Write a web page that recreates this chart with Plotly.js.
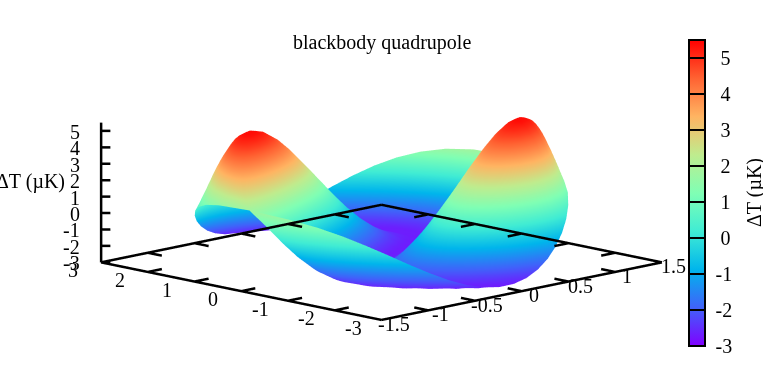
<!DOCTYPE html>
<html><head><meta charset="utf-8">
<script src="https://cdn.plot.ly/plotly-3.0.1.min.js"></script>
<style>html,body{margin:0;padding:0;background:#fff}#plot{width:763px;height:385px}</style>
</head><body><div id="plot"></div>
<script>
const lonDeg = [-180,-172.5,-165,-157.5,-150,-142.5,-135,-127.5,-120,-112.5,-105,-97.5,-90,-82.5,-75,-67.5,-60,-52.5,-45,-37.5,-30,-22.5,-15,-7.5,0,7.5,15,22.5,30,37.5,45,52.5,60,67.5,75,82.5,90,97.5,105,112.5,120,127.5,135,142.5,150,157.5,165,172.5,180];
const northY = [0,0.145,0.29,0.432,0.571,0.707,0.837,0.961,1.079,1.186,1.282,1.362,1.414];
const northHalfWidth = [2.828,2.813,2.768,2.693,2.587,2.449,2.279,2.074,1.829,1.54,1.193,0.76,0];
const row00 = [-2.66,-2.50,-2.24,-1.88,-1.46,-1.00,-.53,-.09,.30,.60,.81,.89,.85,.70,.43,.07,-.35,-.81,-1.28,-1.72,-2.11,-2.41,-2.61,-2.70,-2.66,-2.50,-2.24,-1.88,-1.46,-1.00,-.53,-.09,.30,.60,.81,.89,.85,.70,.43,.07,-.35,-.81,-1.28,-1.72,-2.11,-2.41,-2.61,-2.70,-2.66];
const row08 = [-2.48,-2.19,-1.80,-1.32,-.79,-.23,.32,.83,1.28,1.62,1.85,1.95,1.91,1.73,1.43,1.02,.53,-.01,-.57,-1.11,-1.62,-2.04,-2.37,-2.59,-2.69,-2.67,-2.54,-2.32,-2.02,-1.67,-1.30,-.94,-.63,-.38,-.21,-.14,-.17,-.30,-.52,-.81,-1.15,-1.52,-1.88,-2.20,-2.46,-2.63,-2.70,-2.65,-2.48];
const row15 = [-2.15,-1.75,-1.25,-.68,-.06,.58,1.19,1.75,2.24,2.61,2.86,2.96,2.92,2.73,2.40,1.96,1.42,.83,.20,-.43,-1.03,-1.56,-2.00,-2.34,-2.57,-2.69,-2.69,-2.60,-2.42,-2.19,-1.94,-1.68,-1.44,-1.25,-1.12,-1.06,-1.08,-1.18,-1.35,-1.58,-1.83,-2.09,-2.34,-2.53,-2.66,-2.70,-2.63,-2.45,-2.15];
const row23 = [-1.71,-1.21,-.63,.02,.69,1.37,2.02,2.62,3.12,3.51,3.76,3.87,3.82,3.63,3.29,2.83,2.27,1.64,.97,.28,-.38,-.98,-1.52,-1.96,-2.30,-2.54,-2.67,-2.70,-2.65,-2.55,-2.40,-2.24,-2.08,-1.95,-1.86,-1.82,-1.84,-1.91,-2.02,-2.17,-2.34,-2.49,-2.62,-2.69,-2.69,-2.60,-2.41,-2.11,-1.71];
const row30 = [-1.18,-.61,.02,.70,1.41,2.10,2.76,3.36,3.86,4.25,4.50,4.60,4.56,4.36,4.03,3.57,3.01,2.37,1.69,.98,.29,-.37,-.96,-1.48,-1.91,-2.24,-2.48,-2.62,-2.69,-2.70,-2.65,-2.59,-2.51,-2.44,-2.39,-2.36,-2.37,-2.41,-2.48,-2.56,-2.63,-2.68,-2.70,-2.66,-2.54,-2.35,-2.05,-1.66,-1.18];
const row38 = [-.60,0,.66,1.34,2.04,2.72,3.36,3.93,4.41,4.78,5.02,5.12,5.07,4.89,4.57,4.14,3.60,2.98,2.31,1.62,.93,.26,-.37,-.93,-1.41,-1.81,-2.13,-2.37,-2.53,-2.63,-2.68,-2.70,-2.69,-2.68,-2.66,-2.66,-2.66,-2.67,-2.69,-2.70,-2.69,-2.66,-2.58,-2.44,-2.24,-1.95,-1.58,-1.13,-.60];
const row45 = [-.01,.59,1.23,1.88,2.54,3.18,3.77,4.29,4.73,5.06,5.28,5.37,5.33,5.17,4.88,4.48,3.98,3.42,2.80,2.15,1.49,.84,.23,-.34,-.85,-1.29,-1.66,-1.96,-2.19,-2.37,-2.49,-2.57,-2.62,-2.65,-2.67,-2.67,-2.67,-2.66,-2.64,-2.60,-2.53,-2.42,-2.27,-2.06,-1.79,-1.44,-1.03,-.55,-.01];
const row53 = [.56,1.12,1.70,2.30,2.88,3.45,3.96,4.42,4.80,5.09,5.28,5.36,5.32,5.18,4.93,4.58,4.16,3.66,3.11,2.53,1.94,1.35,.78,.24,-.25,-.70,-1.08,-1.41,-1.69,-1.91,-2.08,-2.21,-2.30,-2.37,-2.40,-2.42,-2.41,-2.38,-2.33,-2.25,-2.14,-1.98,-1.78,-1.53,-1.22,-.86,-.44,.04,.56];
const row60 = [1.06,1.54,2.05,2.55,3.04,3.51,3.93,4.31,4.61,4.85,5.00,5.06,5.04,4.92,4.72,4.44,4.09,3.68,3.23,2.75,2.25,1.74,1.25,.77,.33,-.08,-.45,-.78,-1.06,-1.29,-1.49,-1.64,-1.75,-1.84,-1.89,-1.91,-1.90,-1.86,-1.79,-1.69,-1.55,-1.38,-1.16,-.90,-.59,-.24,.16,.59,1.06];
const row68 = [1.45,1.84,2.24,2.63,3.00,3.36,3.68,3.96,4.19,4.36,4.47,4.52,4.50,4.41,4.26,4.06,3.79,3.49,3.15,2.78,2.39,2.00,1.61,1.22,.86,.51,.20,-.09,-.34,-.56,-.75,-.90,-1.01,-1.10,-1.15,-1.17,-1.16,-1.12,-1.05,-.95,-.81,-.64,-.44,-.20,.08,.38,.72,1.07,1.45];
const row75 = [1.72,1.99,2.26,2.52,2.77,3.01,3.22,3.40,3.55,3.66,3.73,3.76,3.75,3.69,3.59,3.46,3.29,3.09,2.87,2.62,2.36,2.10,1.83,1.56,1.30,1.05,.82,.60,.41,.24,.09,-.03,-.13,-.20,-.25,-.26,-.26,-.22,-.16,-.08,.04,.17,.34,.52,.73,.95,1.20,1.45,1.72];
const row83 = [1.84,1.98,2.11,2.24,2.36,2.48,2.58,2.66,2.73,2.79,2.82,2.83,2.83,2.80,2.76,2.69,2.61,2.52,2.41,2.29,2.17,2.03,1.90,1.76,1.62,1.49,1.37,1.25,1.14,1.04,.96,.89,.83,.79,.76,.75,.76,.78,.81,.86,.93,1.01,1.10,1.20,1.32,1.44,1.57,1.70,1.84];
const row90 = [1.81,1.81,1.81,1.81,1.81,1.81,1.81,1.81,1.81,1.81,1.81,1.81,1.81,1.81,1.81,1.81,1.81,1.81,1.81,1.81,1.81,1.81,1.81,1.81,1.81,1.81,1.81,1.81,1.81,1.81,1.81,1.81,1.81,1.81,1.81,1.81,1.81,1.81,1.81,1.81,1.81,1.81,1.81,1.81,1.81,1.81,1.81,1.81,1.81];
const northRows = [row00,row08,row15,row23,row30,row38,row45,row53,row60,row68,row75,row83,row90];
const xTicks = [-3,-2,-1,0,1,2,3];
const yTicks = [-1.5,-1,-0.5,0,0.5,1,1.5];
const zTicks = [-3,-2,-1,0,1,2,3,4,5];
const cbTicks = [-3,-2,-1,0,1,2,3,4,5];
const palette = [[0,'#8000ff'],[0.125,'#4062fa'],[0.25,'#00b5ec'],[0.375,'#40ecd4'],[0.5,'#80ffb4'],[0.625,'#bfec8e'],[0.75,'#ffb462'],[0.875,'#ff6232'],[1,'#ff0000']];
const xLo=-3,xHi=3,yLo=-1.5,yHi=1.5,zLo=-3,zHi=5.5;
const FONT='"Liberation Serif","Times New Roman",serif';
const TXT=20;

// the sky map repeats antipodally: a southern row is the northern one read half a turn along
const southRows = northRows.slice(1).reverse().map(r=>r.map((_,j)=>r[(j+24)%48]));
const deltaT = southRows.concat(northRows);
const rowY = northY.slice(1).reverse().map(v=>-v).concat(northY);
const rowW = northHalfWidth.slice(1).reverse().concat(northHalfWidth);
const gridX = rowW.map(h=>lonDeg.map(u=>h*u/180));
const gridY = rowY.map(v=>lonDeg.map(()=>v));

const fx=[],fy=[],fz=[];
function seg(a,b){fx.push(a[0],b[0],null);fy.push(a[1],b[1],null);fz.push(a[2],b[2],null);}
seg([xLo,yLo,zLo],[xHi,yLo,zLo]);seg([xHi,yLo,zLo],[xHi,yHi,zLo]);seg([xHi,yHi,zLo],[xLo,yHi,zLo]);seg([xLo,yHi,zLo],[xLo,yLo,zLo]);
seg([xHi,yLo,zLo],[xHi,yLo,zHi]);
xTicks.slice(1,-1).forEach(t=>{seg([t,yLo,zLo],[t,yLo+0.15,zLo]);seg([t,yHi,zLo],[t,yHi-0.15,zLo]);});
yTicks.slice(1,-1).forEach(t=>{seg([xLo,t,zLo],[xLo+0.3,t,zLo]);seg([xHi,t,zLo],[xHi-0.3,t,zLo]);});
zTicks.forEach(t=>seg([xHi,yLo,t],[xHi-0.1,yLo+0.05,t]));

const fnt={family:FONT,size:TXT,color:'#000'};
const ann=[];
xTicks.forEach(t=>ann.push({x:t,y:yLo,z:zLo,text:String(t),showarrow:false,font:fnt,xshift:-28,yshift:-8,xanchor:'center',yanchor:'middle'}));
yTicks.forEach(t=>ann.push({x:xLo,y:t,z:zLo,text:String(t),showarrow:false,font:fnt,xshift:12,yshift:-4,xanchor:'center',yanchor:'middle'}));
zTicks.forEach(t=>ann.push({x:xHi,y:yLo,z:t,text:String(t),showarrow:false,font:fnt,xshift:-19,yshift:-1,xanchor:'right',yanchor:'middle'}));

const ax={visible:false,showspikes:false};
const E=11.85*Math.PI/180, R=3, S=2.06;
const camera={eye:{x:R*Math.cos(E)/Math.SQRT2,y:-R*Math.cos(E)/Math.SQRT2,z:R*Math.sin(E)},center:{x:0,y:0,z:0},up:{x:0,y:0,z:1},projection:{type:'orthographic'}};
// pad widens the overlay's box around the same centre, so frame lines are not clipped on its faces
function sceneCfg(pad){const mx=(xHi-xLo)*(pad-1)/2,my=(yHi-yLo)*(pad-1)/2,mz=(zHi-zLo)*(pad-1)/2;
 return {domain:{x:[0,1],y:[0,1]},bgcolor:'rgba(0,0,0,0)',camera:camera,aspectmode:'manual',aspectratio:{x:S*pad,y:S*pad,z:0.36*S*pad},
 xaxis:Object.assign({},ax,{range:[xHi+mx,xLo-mx],autorange:false}),yaxis:Object.assign({},ax,{range:[yLo-my,yHi+my],autorange:false}),zaxis:Object.assign({},ax,{range:[zLo-mz,zHi+mz],autorange:false})};}

const data=[
{type:'surface',scene:'scene',x:gridX,y:gridY,z:deltaT,cmin:zLo,cmax:zHi,colorscale:palette,hoverinfo:'skip',
 lighting:{ambient:1,diffuse:0,specular:0,roughness:1,fresnel:0},contours:{x:{show:false},y:{show:false},z:{show:false}},
 colorbar:{x:689/763,xanchor:'left',xpad:0,ypad:0,y:0.4987,yanchor:'middle',len:306/385,lenmode:'fraction',thickness:16,outlinewidth:2,outlinecolor:'#000',
  tickmode:'array',tickvals:cbTicks,ticktext:cbTicks.map(t=>(t<0?'\u00a0':'\u00a0\u00a0')+t),ticks:'inside',ticklen:16,tickwidth:1.5,tickcolor:'#000',tickfont:fnt,borderwidth:0}},
{type:'scatter3d',scene:'scene2',mode:'lines',x:fx,y:fy,z:fz,line:{color:'#000',width:5},hoverinfo:'skip',showlegend:false}
];
const overlay=sceneCfg(1.2);overlay.annotations=ann;
const layout={width:763,height:385,margin:{l:0,r:0,t:0,b:0},paper_bgcolor:'#fff',showlegend:false,
 scene:sceneCfg(1),scene2:overlay,
 annotations:[
 {xref:'paper',yref:'paper',x:382/763,y:1-42/385,text:'blackbody quadrupole',showarrow:false,font:fnt,xanchor:'center',yanchor:'middle'},
 {xref:'paper',yref:'paper',x:30/763,y:1-181/385,text:'ΔT (µK)',showarrow:false,font:fnt,xanchor:'center',yanchor:'middle'},
 {xref:'paper',yref:'paper',x:755/763,y:1-193/385,text:'ΔT (µK)',textangle:-90,showarrow:false,font:fnt,xanchor:'center',yanchor:'middle'}
 ]};
Plotly.newPlot('plot',data,layout,{displayModeBar:false});
</script></body></html>
